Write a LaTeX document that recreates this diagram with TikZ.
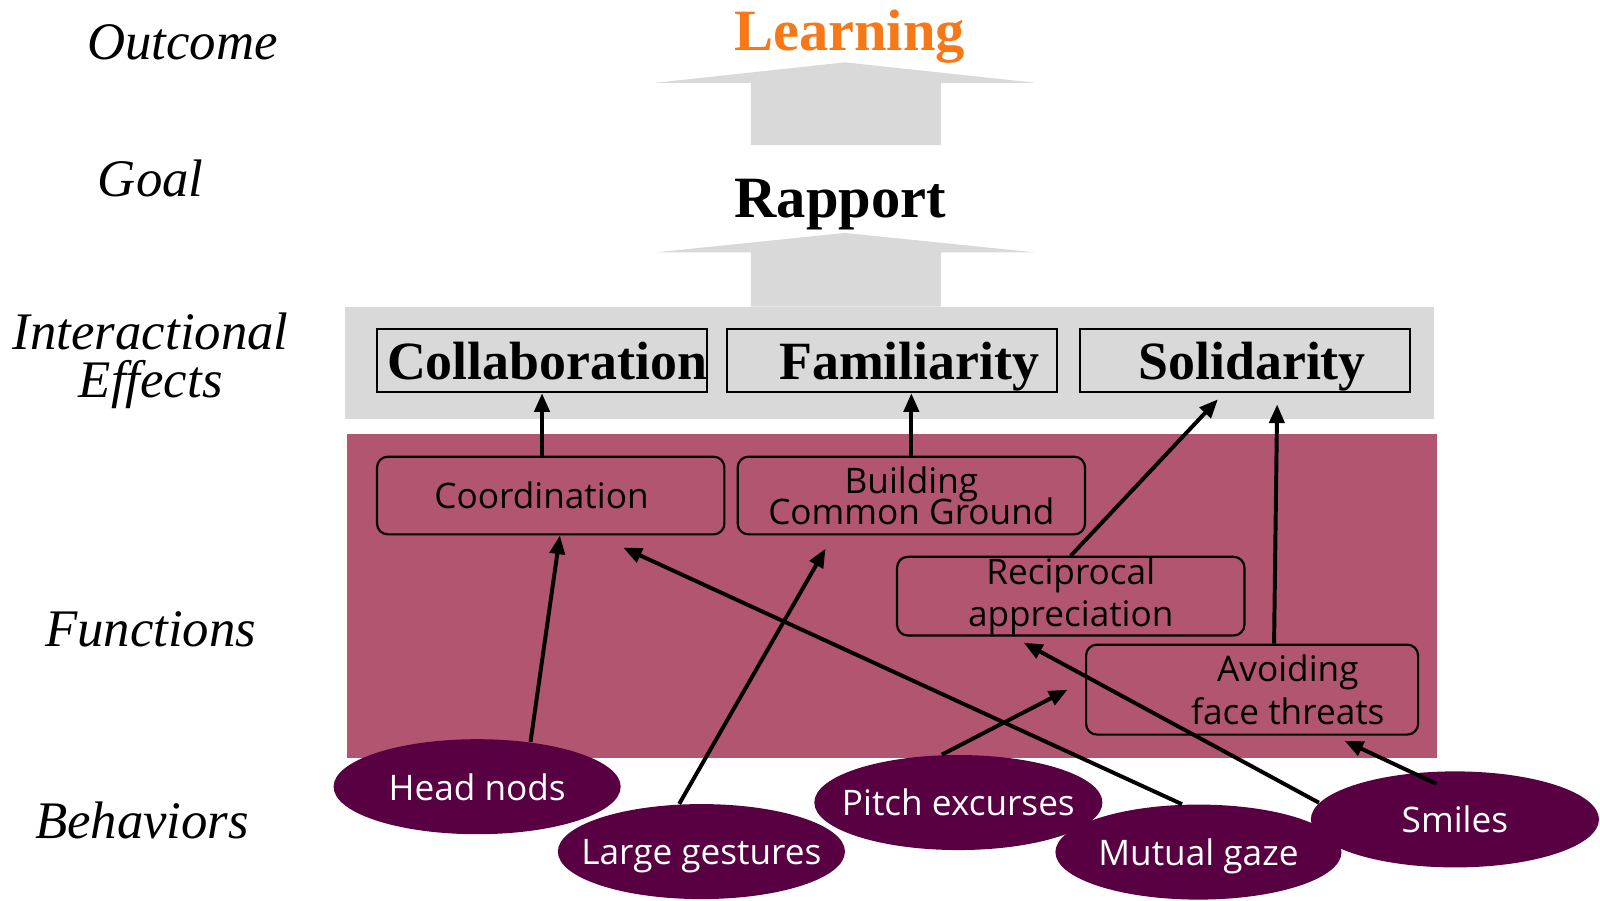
\documentclass[tikz,border=0pt]{standalone}
\usepackage{fontspec}
\setmainfont{Liberation Serif}
\newfontfamily\uifont{Open Sans}
\usepackage{tikz}
\usetikzlibrary{arrows.meta,shapes.geometric,calc}
\definecolor{bandgray}{RGB}{217,217,217}
\definecolor{bandpink}{RGB}{177,85,112}
\definecolor{behpurple}{RGB}{88,0,66}
\definecolor{outorange}{RGB}{246,120,22}
\newcommand{\tightlines}{\setlength{\lineskiplimit}{-10pt}\setlength{\lineskip}{0pt}}

\begin{document}
\begin{tikzpicture}[y=-1cm,
		layer/.style = {font=\fontsize{14.7}{13.4}\selectfont\itshape, align=center},
		effbox/.style = {draw, line width=0.5pt, inner xsep=0pt, text depth=0pt, minimum width=3.23cm, minimum height=0.62cm, font=\fontsize{15}{17}\selectfont\bfseries},
		fnbox/.style = {draw, rounded corners=3pt, line width=0.6pt, inner ysep=0pt, minimum width=3.4cm, minimum height=0.76cm, align=center, font=\uifont\fontsize{9.8}{11.8}\selectfont},
		beh/.style = {ellipse, fill=behpurple, text=white, inner sep=0pt, text depth=0pt, minimum width=2.81cm, minimum height=0.93cm, font=\uifont\fontsize{9.8}{11}\selectfont},
		link/.style = {line width=1.1pt, -{Triangle[length=5.2pt, width=4.2pt]}}]
		\useasboundingbox (0,0) rectangle (15.66,8.81);
		% bands and block arrows
		\fill [bandgray] (3.38,3.00) rectangle (14.04,4.10);
		\fill [bandpink] (3.40,4.25) rectangle (14.06,7.42);
		\fill [bandgray] (7.35,1.42) -- (7.35,0.81) -- (6.42,0.81) -- (8.27,0.61) -- (10.13,0.81) -- (9.21,0.81) -- (9.21,1.42) -- cycle;
		\fill [bandgray] (7.35,3.00) -- (7.35,2.47) -- (6.42,2.47) -- (8.27,2.28) -- (10.13,2.47) -- (9.21,2.47) -- (9.21,3.00) -- cycle;
		% layer names
		\node [layer, anchor=base](outcome) at (1.785,0.58) {Outcome};
		\node [layer, anchor=base](goal) at (1.475,1.92) {Goal};
		\node [layer](interact) at (1.475,3.53) {Interactional\\Effects};
		\node [layer, anchor=base](functions) at (1.475,6.33) {Functions};
		\node [layer, anchor=base](behaviors) at (1.39,8.21) {Behaviors};
		\node [anchor=base, text=outorange, font=\fontsize{16.3}{18}\selectfont\bfseries](learning) at (8.315,0.49) {Learning};
		\node [anchor=base, font=\fontsize{16.3}{18}\selectfont\bfseries](rapport) at (8.225,2.13) {Rapport};
		% interactional effects
		\node [effbox](collab) at (5.305,3.53) {\hspace*{0.1cm}Collaboration};
		\node [effbox](famil) at (8.73,3.53) {\hspace*{0.34cm}Familiarity};
		\node [effbox](solid) at (12.185,3.53) {\hspace*{0.14cm}Solidarity};
		% functions
		\node [fnbox](coord) at (5.39,4.85) {Coordination\hspace*{0.18cm}};
		\node [fnbox, font=\uifont\fontsize{9.8}{8.6}\selectfont\tightlines](build) at (8.92,4.85) {Building\\Common Ground};
		\node [fnbox, minimum height=0.77cm](recip) at (10.48,5.835) {Reciprocal\\appreciation};
		\node [fnbox, minimum width=3.25cm, minimum height=0.88cm](avoid) at (12.255,6.75) {\hspace*{0.7cm}Avoiding\\\hspace*{0.7cm}face threats};
		% behaviors
		\node [beh](headnods) at (4.67,7.70) {\makebox[0pt]{Head nods}};
		\node [beh](gestures) at (6.865,8.335) {\makebox[0pt]{Large gestures}};
		\node [beh, minimum width=2.82cm](pitch) at (9.38,7.855) {\makebox[0pt]{Pitch excurses}};
		\node [beh, minimum width=2.80cm](gaze) at (11.73,8.34) {\makebox[0pt]{Mutual gaze}};
		\node [beh, minimum width=2.82cm, minimum height=0.94cm](smiles) at (14.24,8.02) {\makebox[0pt]{Smiles}};
		% links
		\draw [link] (collab.south |- coord.north) -- (collab.south);
		\draw [link] (build.north) -- (build.north |- famil.south);
		\draw [link] (headnods.40) -- ([xshift=0.09cm]coord.south);
		\draw [link] (gestures.115) -- ([xshift=-0.84cm,yshift=-0.13cm]build.south);
		\draw [link] (gaze.109) -- ([xshift=0.71cm,yshift=-0.12cm]coord.south);
		\draw [link] (pitch.109) -- ([xshift=-0.17cm]avoid.west);
		\draw [link] (smiles.173) -- ([xshift=-0.46cm,yshift=-0.06cm]recip.south);
		\draw [link] ([xshift=-0.18cm,yshift=-0.13cm]smiles.north) -- ([xshift=0.905cm,yshift=-0.05cm]avoid.south);
		\draw [link] ([xshift=0.215cm]avoid.north) -- ([xshift=0.315cm,yshift=-0.11cm]solid.south);
		\draw [link] (recip.north) -- ([xshift=-0.265cm,yshift=-0.06cm]solid.south);
\end{tikzpicture}
\end{document}
